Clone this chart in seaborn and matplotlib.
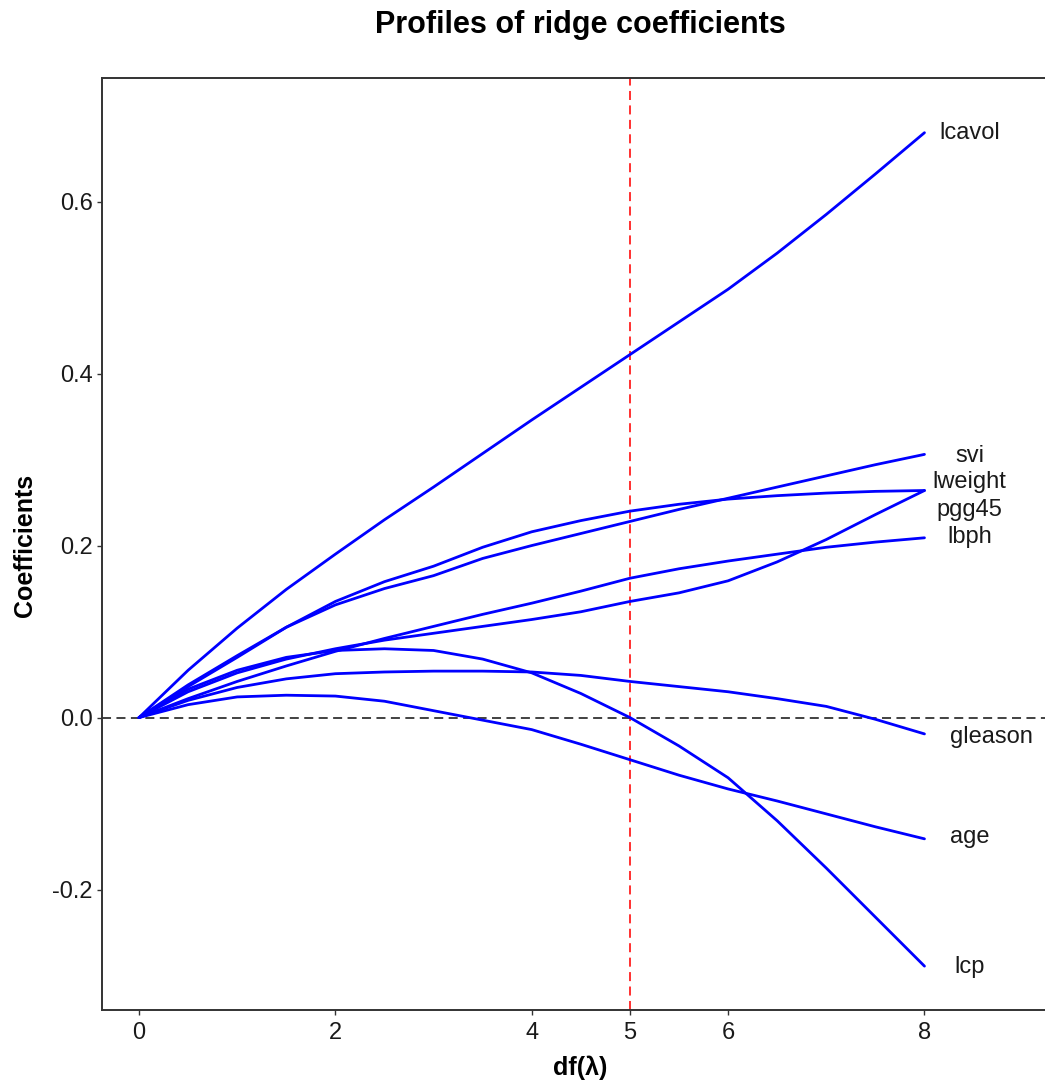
import numpy as np
import pandas as pd
import matplotlib
matplotlib.use("Agg")
import matplotlib.pyplot as plt
import seaborn as sns

# ---- data ----
df_grid = [0, 0.5, 1, 1.5, 2, 2.5, 3, 3.5, 4, 4.5, 5, 5.5, 6, 6.5, 7, 7.5, 8]

lcavol  = [0, 0.055, 0.104, 0.149, 0.190, 0.230, 0.268, 0.307, 0.346, 0.384, 0.422, 0.460, 0.498, 0.540, 0.585, 0.632, 0.680]
svi     = [0, 0.038, 0.072, 0.105, 0.131, 0.150, 0.165, 0.185, 0.200, 0.214, 0.228, 0.242, 0.255, 0.268, 0.281, 0.294, 0.306]
lweight = [0, 0.036, 0.070, 0.105, 0.135, 0.158, 0.176, 0.198, 0.216, 0.229, 0.240, 0.248, 0.254, 0.258, 0.261, 0.263, 0.264]
pgg45   = [0, 0.030, 0.052, 0.068, 0.080, 0.090, 0.098, 0.106, 0.114, 0.123, 0.135, 0.145, 0.159, 0.181, 0.207, 0.236, 0.264]
lbph    = [0, 0.022, 0.042, 0.060, 0.077, 0.092, 0.106, 0.120, 0.133, 0.147, 0.162, 0.173, 0.182, 0.190, 0.198, 0.204, 0.209]
gleason = [0, 0.020, 0.035, 0.045, 0.051, 0.053, 0.054, 0.054, 0.053, 0.049, 0.042, 0.036, 0.030, 0.022, 0.013, -0.002, -0.019]
age     = [0, 0.015, 0.024, 0.026, 0.025, 0.019, 0.008, -0.003, -0.014, -0.031, -0.049, -0.067, -0.083, -0.097, -0.112, -0.127, -0.141]
lcp     = [0, 0.033, 0.055, 0.070, 0.078, 0.080, 0.078, 0.068, 0.052, 0.028, 0.000, -0.033, -0.070, -0.120, -0.175, -0.232, -0.289]

variables = ["lcavol", "svi", "lweight", "pgg45", "lbph", "gleason", "age", "lcp"]
series = [lcavol, svi, lweight, pgg45, lbph, gleason, age, lcp]

label_x = [8.46, 8.46, 8.46, 8.46, 8.46, 8.68, 8.46, 8.46]
label_y = [0.680, 0.304, 0.2735, 0.241, 0.210, -0.0227, -0.139, -0.290]

x_ticks = [0, 2, 4, 5, 6, 8]
y_ticks = [-0.2, 0.0, 0.2, 0.4, 0.6]
y_tick_labels = ["-0.2", "0.0", "0.2", "0.4", "0.6"]

title = "Profiles of ridge coefficients"
xlabel = "df(λ)"
ylabel = "Coefficients"

# ---- build long-form table ----
rows = []
for name, vals in zip(variables, series):
    for x, v in zip(df_grid, vals):
        rows.append((name, x, v))
data = pd.DataFrame(rows, columns=["variable", "df", "coef"])

sns.set_theme(style="white")
plt.rcParams["font.family"] = ["Liberation Sans", "DejaVu Sans"]

W, H = 1045, 1088
fig = plt.figure(figsize=(W / 100, H / 100), dpi=100)
ax = fig.add_axes([102 / W, 1 - 1010 / H, (1058 - 102) / W, (1010 - 78) / H])

sns.lineplot(data=data, x="df", y="coef", units="variable", estimator=None,
             color="#0000FF", linewidth=2.0, ax=ax, legend=False, sort=False)

ax.axhline(0, color="#333333", linestyle=(0, (5, 3)), linewidth=1.3, zorder=1)
ax.axvline(5, color="#FF2020", linestyle=(0, (5, 3)), linewidth=1.3, zorder=1)

for name, lx, ly in zip(variables, label_x, label_y):
    ax.text(lx, ly, name, ha="center", va="center", fontsize=17, color="#1a1a1a")

ax.set_xlim(-0.377, 9.36)
ax.set_ylim(-0.340, 0.7436)
ax.set_xticks(x_ticks)
ax.set_xticklabels([str(t) for t in x_ticks])
ax.set_yticks(y_ticks)
ax.set_yticklabels(y_tick_labels)
ax.tick_params(axis="both", which="both", length=3.5, width=1.0, color="#333333",
               labelsize=17, labelcolor="#1a1a1a", direction="out",
               bottom=True, left=True)
ax.tick_params(axis="x", pad=5)
ax.tick_params(axis="y", pad=3)

for s in ax.spines.values():
    s.set_color("#333333")
    s.set_linewidth(1.4)
    s.set_visible(True)

ax.set_xlabel("")
ax.set_ylabel("")
fig.text(25 / W, 1 - 545 / H, ylabel, rotation=90, ha="center", va="center",
         fontsize=18, fontweight="bold", color="black")
fig.text(580 / W, 1 - 1068 / H, xlabel, ha="center", va="center",
         fontsize=18, fontweight="bold", color="black")
fig.text(580 / W, 1 - 25 / H, title, ha="center", va="center",
         fontsize=22, fontweight="bold", color="black")

fig.savefig("out.png", dpi=100)
